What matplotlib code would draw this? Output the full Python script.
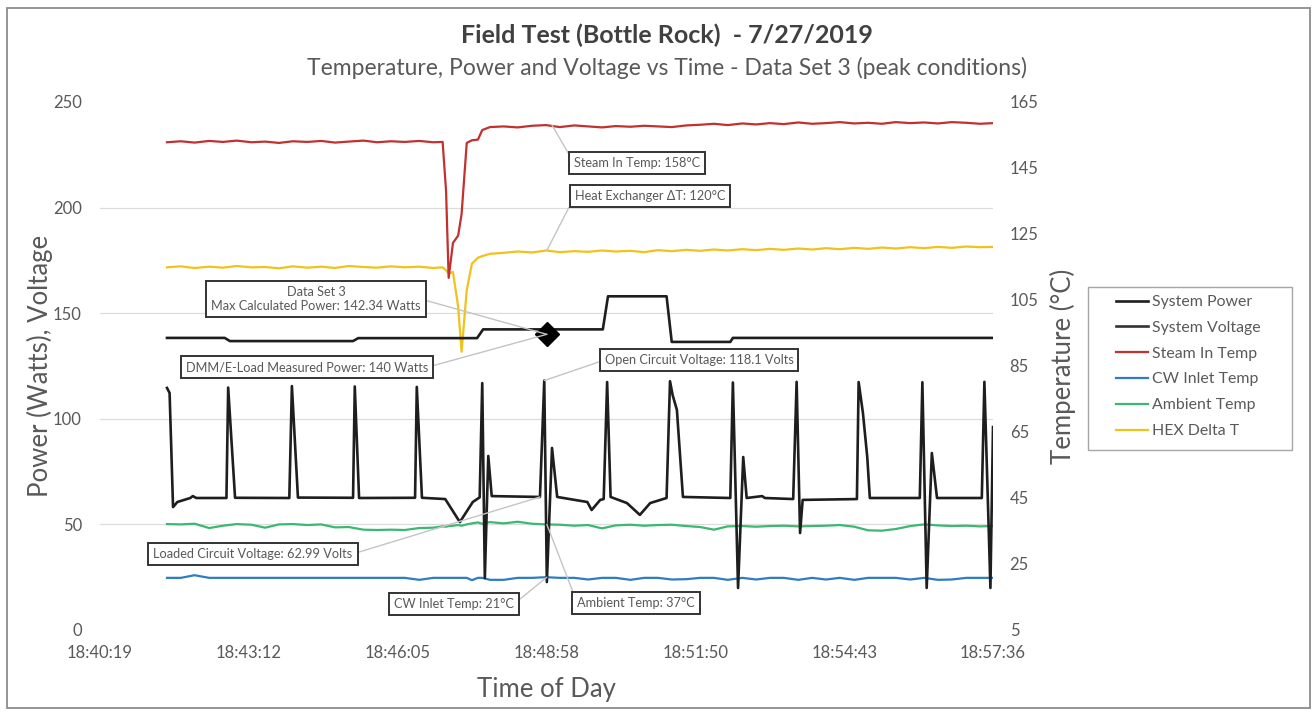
import matplotlib
matplotlib.use("Agg")
import matplotlib.pyplot as plt
from matplotlib.lines import Line2D
from matplotlib.patches import Rectangle
from matplotlib.ticker import FuncFormatter

plt.rcParams['font.family'] = ['Lato', 'DejaVu Sans']

W_PX, H_PX = 1313, 715

# sample times are seconds after 18:40:00
T0 = 18 * 3600 + 40 * 60

# temperature logger samples
temp_t = [97, 113, 129, 146, 162, 178, 195, 211, 227, 243,
          260, 276, 292, 308, 325, 341, 357, 373, 390, 406,
          417, 421, 424, 429, 435, 439, 445, 451, 458, 463, 472,
          488, 504, 521, 537, 553, 570, 586, 602, 618, 635,
          651, 667, 683, 700, 716, 732, 748, 765, 781, 797,
          813, 830, 846, 862, 878, 895, 911, 927, 943, 960,
          976, 992, 1008, 1025, 1041, 1056]
steam_in = [152.8, 153.1, 152.7, 153.2, 152.9, 153.3, 152.8, 153.0, 152.6, 153.1,
            152.9, 153.2, 152.7, 153.0, 153.3, 152.8, 153.1, 152.9, 153.2, 152.8,
            152.9, 138.0, 111.7, 122.3, 124.5, 131.0, 152.6, 153.4, 153.6, 156.5, 157.4,
            157.6, 157.3, 157.8, 158.0, 157.4, 157.9, 157.6, 157.3, 157.7, 157.5,
            157.8, 157.6, 157.4, 157.9, 158.1, 158.4, 158.0, 158.5, 158.2, 158.6,
            158.3, 158.8, 158.4, 158.6, 158.9, 158.5, 158.7, 158.4, 158.9, 158.6,
            158.8, 158.5, 158.9, 158.7, 158.4, 158.6]
hex_delta = [114.9, 115.2, 114.7, 115.1, 114.8, 115.3, 114.9, 115.0, 114.6, 115.2,
             114.8, 115.1, 114.7, 115.3, 115.0, 114.8, 115.2, 114.9, 115.1, 114.7,
             114.9, 114.0, 113.0, 113.5, 103.0, 89.3, 108.0, 116.0, 117.8, 118.3, 119.0,
             119.3, 119.7, 119.4, 120.0, 119.5, 119.8, 119.6, 120.0, 119.7, 119.9,
             119.5, 120.1, 119.8, 120.2, 119.9, 120.3, 120.0, 120.4, 120.1, 120.5,
             120.2, 120.6, 120.3, 120.7, 120.4, 120.8, 120.5, 120.9, 120.6, 121.0,
             120.7, 121.1, 120.8, 121.2, 121.0, 121.1]
ambient = [37.1, 37.0, 37.2, 35.9, 36.6, 37.1, 36.9, 36.0, 37.0, 37.1,
           36.8, 37.0, 36.1, 36.2, 35.4, 35.3, 35.4, 35.3, 35.9, 36.0,
           36.4, 36.3, 36.5, 36.6, 36.8, 36.6, 37.0, 37.3, 37.6, 37.2, 37.7,
           37.3, 37.8, 37.2, 37.0, 36.9, 36.6, 36.8, 35.8, 36.7, 36.9,
           36.6, 36.8, 36.9, 36.5, 36.2, 35.4, 36.4, 36.5, 36.3, 36.5,
           36.6, 36.4, 36.5, 36.6, 36.8, 36.3, 35.2, 35.1, 35.6, 36.5,
           37.0, 36.7, 36.5, 36.6, 36.4, 36.5]
cw_inlet = [20.8, 20.8, 21.6, 20.8, 20.8, 20.8, 20.8, 20.8, 20.8, 20.8,
            20.8, 20.8, 20.8, 20.8, 20.8, 20.8, 20.8, 20.8, 20.2, 20.8,
            20.8, 20.8, 20.8, 20.8, 20.8, 20.8, 20.8, 20.1, 20.8, 20.8, 20.2,
            20.2, 20.8, 20.8, 21.0, 20.8, 20.8, 20.3, 20.8, 20.8, 20.2,
            20.8, 20.8, 20.3, 20.4, 20.8, 20.8, 20.2, 20.8, 20.3, 20.8,
            20.8, 20.2, 20.8, 20.3, 20.8, 20.2, 20.8, 20.8, 20.8, 20.3,
            20.8, 20.2, 20.3, 20.8, 20.8, 20.8]

# calculated system power
power_t = [97, 164, 170, 313, 319, 457, 464, 603, 609, 677, 683, 751, 754, 1056]
power_w = [138.3, 138.3, 136.8, 136.8, 138.2, 138.2, 142.34, 142.34, 158.0, 158.0,
           136.4, 136.4, 138.3, 138.3]

# system voltage
volt_t = [97, 100, 104, 109, 124, 127, 131,
          166, 168, 176, 239, 242, 249, 313, 315, 320, 385, 387, 393,
          420, 437, 446, 452, 460, 463, 466, 470, 474,
          530, 535, 538, 544, 550,
          585, 590, 600, 604, 608, 612, 631, 646, 658,
          677, 681, 684, 689, 696,
          751, 754, 760, 766, 770, 788, 791,
          824, 828, 832, 835,
          898, 900, 905, 910, 913,
          971, 974, 979, 985, 991,
          1043, 1046, 1053, 1056]
volt_v = [114.6, 112.2, 58.2, 60.6, 62.5, 63.4, 62.5,
          62.5, 114.8, 62.6, 62.5, 115.5, 62.7, 62.6, 115.3, 62.5, 62.6, 115.1, 62.6,
          62.0, 51.1, 56.8, 60.6, 62.8, 116.9, 24.6, 82.4, 63.4,
          62.99, 118.1, 22.7, 86.2, 63.0,
          60.6, 56.8, 61.6, 62.0, 117.4, 63.0, 60.1, 54.5, 60.1,
          62.5, 117.8, 111.3, 104.2, 63.0,
          62.5, 117.2, 19.9, 81.9, 62.5, 63.4, 62.5,
          62.0, 117.5, 45.9, 61.6,
          62.0, 117.4, 102.7, 81.9, 62.5,
          62.5, 117.3, 19.9, 83.8, 62.5,
          62.5, 117.5, 19.9, 96.1]

# DMM / E-load reading
dmm_t = 538
dmm_w = 140

day_ticks = [0.778, 0.780, 0.782, 0.784, 0.786, 0.788, 0.790]
power_ticks = [0, 50, 100, 150, 200, 250]
temp_ticks = [5, 25, 45, 65, 85, 105, 125, 145, 165]

GRAY = '#595959'
RED = '#C23030'
BLUE = '#2E7DC4'
GREEN = '#3BB872'
YELLOW = '#F0C21C'
BLACK = '#1E1E1E'


def fx(px):
    return px / W_PX


def fy(py):
    return 1 - py / H_PX


def hms(x, pos=None):
    s = int(round(x))
    return '%d:%02d:%02d' % (s // 3600, (s % 3600) // 60, s % 60)


fig = plt.figure(figsize=(W_PX / 100, H_PX / 100), dpi=100)
fig.patches.append(Rectangle((fx(7), fy(708)), fx(1303), 700 / H_PX,
                             transform=fig.transFigure, fill=False,
                             ec='#8c8c8c', lw=1.3))

ax = fig.add_axes([fx(100), fy(630), fx(893), 528 / H_PX])
ax2 = ax.twinx()
ax.set_zorder(2)
ax2.set_zorder(1)
ax.patch.set_visible(False)

tt = [T0 + t for t in temp_t]
ax2.plot(tt, hex_delta, color=YELLOW, lw=1.6)
ax2.plot(tt, steam_in, color=RED, lw=1.6)
ax2.plot(tt, ambient, color=GREEN, lw=1.6)
ax2.plot(tt, cw_inlet, color=BLUE, lw=1.6)

ax.plot([T0 + t for t in power_t], power_w, color=BLACK, lw=1.9)
ax.plot([T0 + t for t in volt_t], volt_v, color=BLACK, lw=1.9)
ax.plot([T0 + dmm_t], [dmm_w], marker='D', ms=12, color='black', ls='none')

xticks = [d * 86400 for d in day_ticks]
ax.set_xlim(xticks[0], xticks[-1])
ax.set_xticks(xticks)
ax.xaxis.set_major_formatter(FuncFormatter(hms))
ax.set_ylim(0, 250)
ax.set_yticks(power_ticks)
ax2.set_ylim(5, 165)
ax2.set_yticks(temp_ticks)

# horizontal grid follows the power axis, drawn beneath all series
grid_pos = [5 + v * (165 - 5) / 250 for v in power_ticks]
ax2.set_yticks(grid_pos, minor=True)
ax2.grid(True, which='minor', axis='y', color='#dcdcdc', lw=0.9)
ax2.grid(True, which='major', axis='x', color='#dcdcdc', lw=0.9)

for a in (ax, ax2):
    for sp in a.spines.values():
        sp.set_visible(False)
    a.tick_params(which='both', length=0, labelsize=12, labelcolor=GRAY)
ax.tick_params(axis='y', pad=13)
ax.tick_params(axis='x', pad=11)
ax2.tick_params(axis='y', pad=12)

ax.set_ylabel('Power (Watts), Voltage', fontsize=18.5, color=GRAY)
ax.yaxis.set_label_coords(-0.053, 0.5)
ax2.set_ylabel('Temperature (°C)', fontsize=18.5, color=GRAY, rotation=90)
ax2.yaxis.set_label_coords(1.064, 0.5)
ax.set_xlabel('Time of Day', fontsize=18.5, color=GRAY)
ax.xaxis.set_label_coords(0.5, -0.089)

fig.text(fx(667), fy(35), 'Field Test (Bottle Rock)  - 7/27/2019',
         ha='center', va='center', fontsize=18, fontweight='bold', color='#404040')
fig.text(fx(667), fy(68),
         'Temperature, Power and Voltage vs Time - Data Set 3 (peak conditions)',
         ha='center', va='center', fontsize=16.5, color=GRAY)

box = dict(boxstyle='square,pad=0.4', fc='white', ec='#333333', lw=1.4)
lead = dict(arrowstyle='-', color='#c4c4c4', lw=1.0, shrinkA=0, shrinkB=0)


def callout(text, xy, center, side, coords):
    rel = (0, 0.5) if side == 'left' else (1, 0.5)
    ax.annotate(text, xy=xy, xycoords=coords,
                xytext=(center[0], H_PX - center[1]), textcoords='figure pixels',
                ha='center', va='center', fontsize=9.2, color=GRAY,
                multialignment='center', bbox=box, zorder=6,
                arrowprops=dict(lead, relpos=rel))


i_dmm = temp_t.index(537)
callout('Steam In Temp: %d°C' % round(steam_in[i_dmm]), (T0 + 544, steam_in[i_dmm]),
        (637, 163), 'left', ax2.transData)
callout('Heat Exchanger ΔT: %d°C' % round(hex_delta[i_dmm]), (T0 + 538, hex_delta[i_dmm]),
        (650, 196), 'left', ax2.transData)
callout('Data Set 3\nMax Calculated Power: 142.34 Watts', (T0 + dmm_t, dmm_w),
        (316, 299), 'right', ax.transData)
callout('DMM/E-Load Measured Power: %d Watts' % dmm_w, (T0 + dmm_t, dmm_w),
        (307, 367), 'right', ax.transData)
callout('Open Circuit Voltage: 118.1 Volts', (T0 + 535, 118.1),
        (699, 360), 'left', ax.transData)
callout('Loaded Circuit Voltage: 62.99 Volts', (T0 + 530, 62.99),
        (253, 554), 'right', ax.transData)
callout('CW Inlet Temp: %d°C' % round(cw_inlet[i_dmm]), (T0 + 538, cw_inlet[i_dmm]),
        (454, 604), 'right', ax2.transData)
callout('Ambient Temp: %d°C' % round(ambient[i_dmm]), (T0 + 538, ambient[i_dmm]),
        (636, 603), 'left', ax2.transData)

# legend
handles = [Line2D([], [], color=BLACK, lw=1.9),
           Line2D([], [], color='#333333', lw=1.9),
           Line2D([], [], color=RED, lw=1.6),
           Line2D([], [], color=BLUE, lw=1.6),
           Line2D([], [], color=GREEN, lw=1.6),
           Line2D([], [], color=YELLOW, lw=1.6)]
labels = ['System Power', 'System Voltage', 'Steam In Temp',
          'CW Inlet Temp', 'Ambient Temp', 'HEX Delta T']
fig.patches.append(Rectangle((fx(1088), fy(450)), fx(204), 163 / H_PX,
                             transform=fig.transFigure, fill=False,
                             ec='#a6a6a6', lw=1.0))
leg = fig.legend(handles, labels, loc='upper left',
                 bbox_to_anchor=(fx(1116), fy(295)), frameon=False,
                 fontsize=11.4, labelcolor=GRAY, borderpad=0, borderaxespad=0,
                 handlelength=2.0, handletextpad=0.3, labelspacing=0.74)

fig.savefig('out.png', dpi=100, facecolor='white')
